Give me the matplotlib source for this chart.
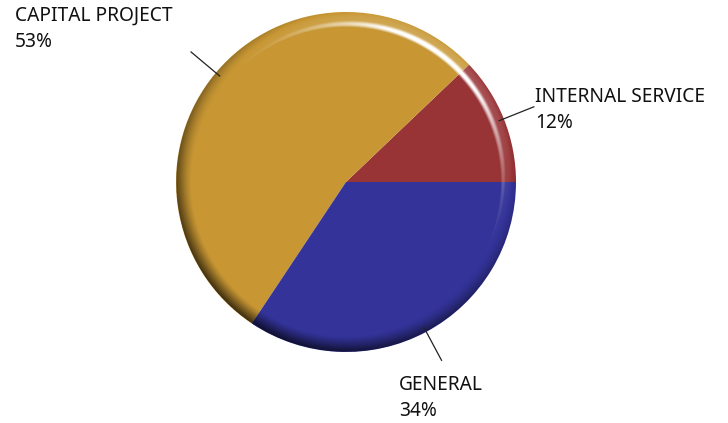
import numpy as np
import matplotlib
matplotlib.use("Agg")
import matplotlib.pyplot as plt
from matplotlib.patches import Circle

# Fund shares, counter-clockwise from 3 o'clock
funds = ["INTERNAL SERVICE", "CAPITAL PROJECT", "GENERAL"]
shares = [12, 53, 34]
colors = ["#983336", "#C89734", "#333399"]

# where each label block sits (figure pixels, top-left corner)
label_pos = [(535, 87), (15, 6), (399, 375)]

W, H = 728, 423
fig = plt.figure(figsize=(W / 100, H / 100), dpi=100)
cx, cy, R = 346, 182, 170
ax = fig.add_axes([(cx - R) / W, (H - cy - R) / H, 2 * R / W, 2 * R / H])

wedges, _ = ax.pie(shares, colors=colors, startangle=0, counterclock=True,
                   radius=1.0, wedgeprops=dict(linewidth=0))

# rounded rim: light from upper right, shadow lower left
n = 900
g = np.linspace(-1, 1, n)
X, Y = np.meshgrid(g, g)
r = np.hypot(X, Y)
phi = np.arctan2(Y, X)
w = 0.09
t = np.clip((r - (1 - w)) / w, 0, 1)
th = t * np.pi / 2 * 0.9
nx = np.sin(th) * np.cos(phi)
ny = np.sin(th) * np.sin(phi)
nz = np.cos(th)

la = np.deg2rad(55)
tilt = np.deg2rad(45)
L = np.array([np.sin(tilt) * np.cos(la), np.sin(tilt) * np.sin(la), np.cos(tilt)])
diff = nx * L[0] + ny * L[1] + nz * L[2] - L[2]
hv = L + np.array([0, 0, 1.0])
hv /= np.linalg.norm(hv)
p = 25
base = hv[2] ** p
spec = np.clip(nx * hv[0] + ny * hv[1] + nz * hv[2], 0, 1) ** p
spec = np.clip((spec - base) / (1 - base), 0, 1)

v = 0.55 * diff + 1.2 * spec
rgba = np.zeros((n, n, 4))
rgba[..., :3] = np.where(v[..., None] > 0, 1.0, 0.0)
rgba[..., 3] = np.clip(np.abs(v), 0, 1)
rgba[r > 1, 3] = 0
img = ax.imshow(rgba, extent=(-1, 1, -1, 1), origin="lower", interpolation="bilinear", zorder=3)
img.set_clip_path(Circle((0, 0), 1.0, transform=ax.transData))
ax.set_xlim(-1, 1)
ax.set_ylim(-1, 1)
ax.set_aspect("equal")
ax.axis("off")

# leader lines and labels
total = sum(shares)
start = 0.0
for name, val, (px, py) in zip(funds, shares, label_pos):
    span = 360.0 * val / total
    mid = np.deg2rad(start + span / 2)
    start += span
    r0, r1 = 0.97, 1.19
    ax.plot([r0 * np.cos(mid), r1 * np.cos(mid)], [r0 * np.sin(mid), r1 * np.sin(mid)],
            color="#222222", lw=0.9, clip_on=False, zorder=4)
    fig.text(px / W, 1 - py / H, f"{name}\n{val}%", ha="left", va="top",
             fontsize=13.8, family="Noto Sans", color="#111111", linespacing=1.4)

fig.savefig("out.png", dpi=100)
